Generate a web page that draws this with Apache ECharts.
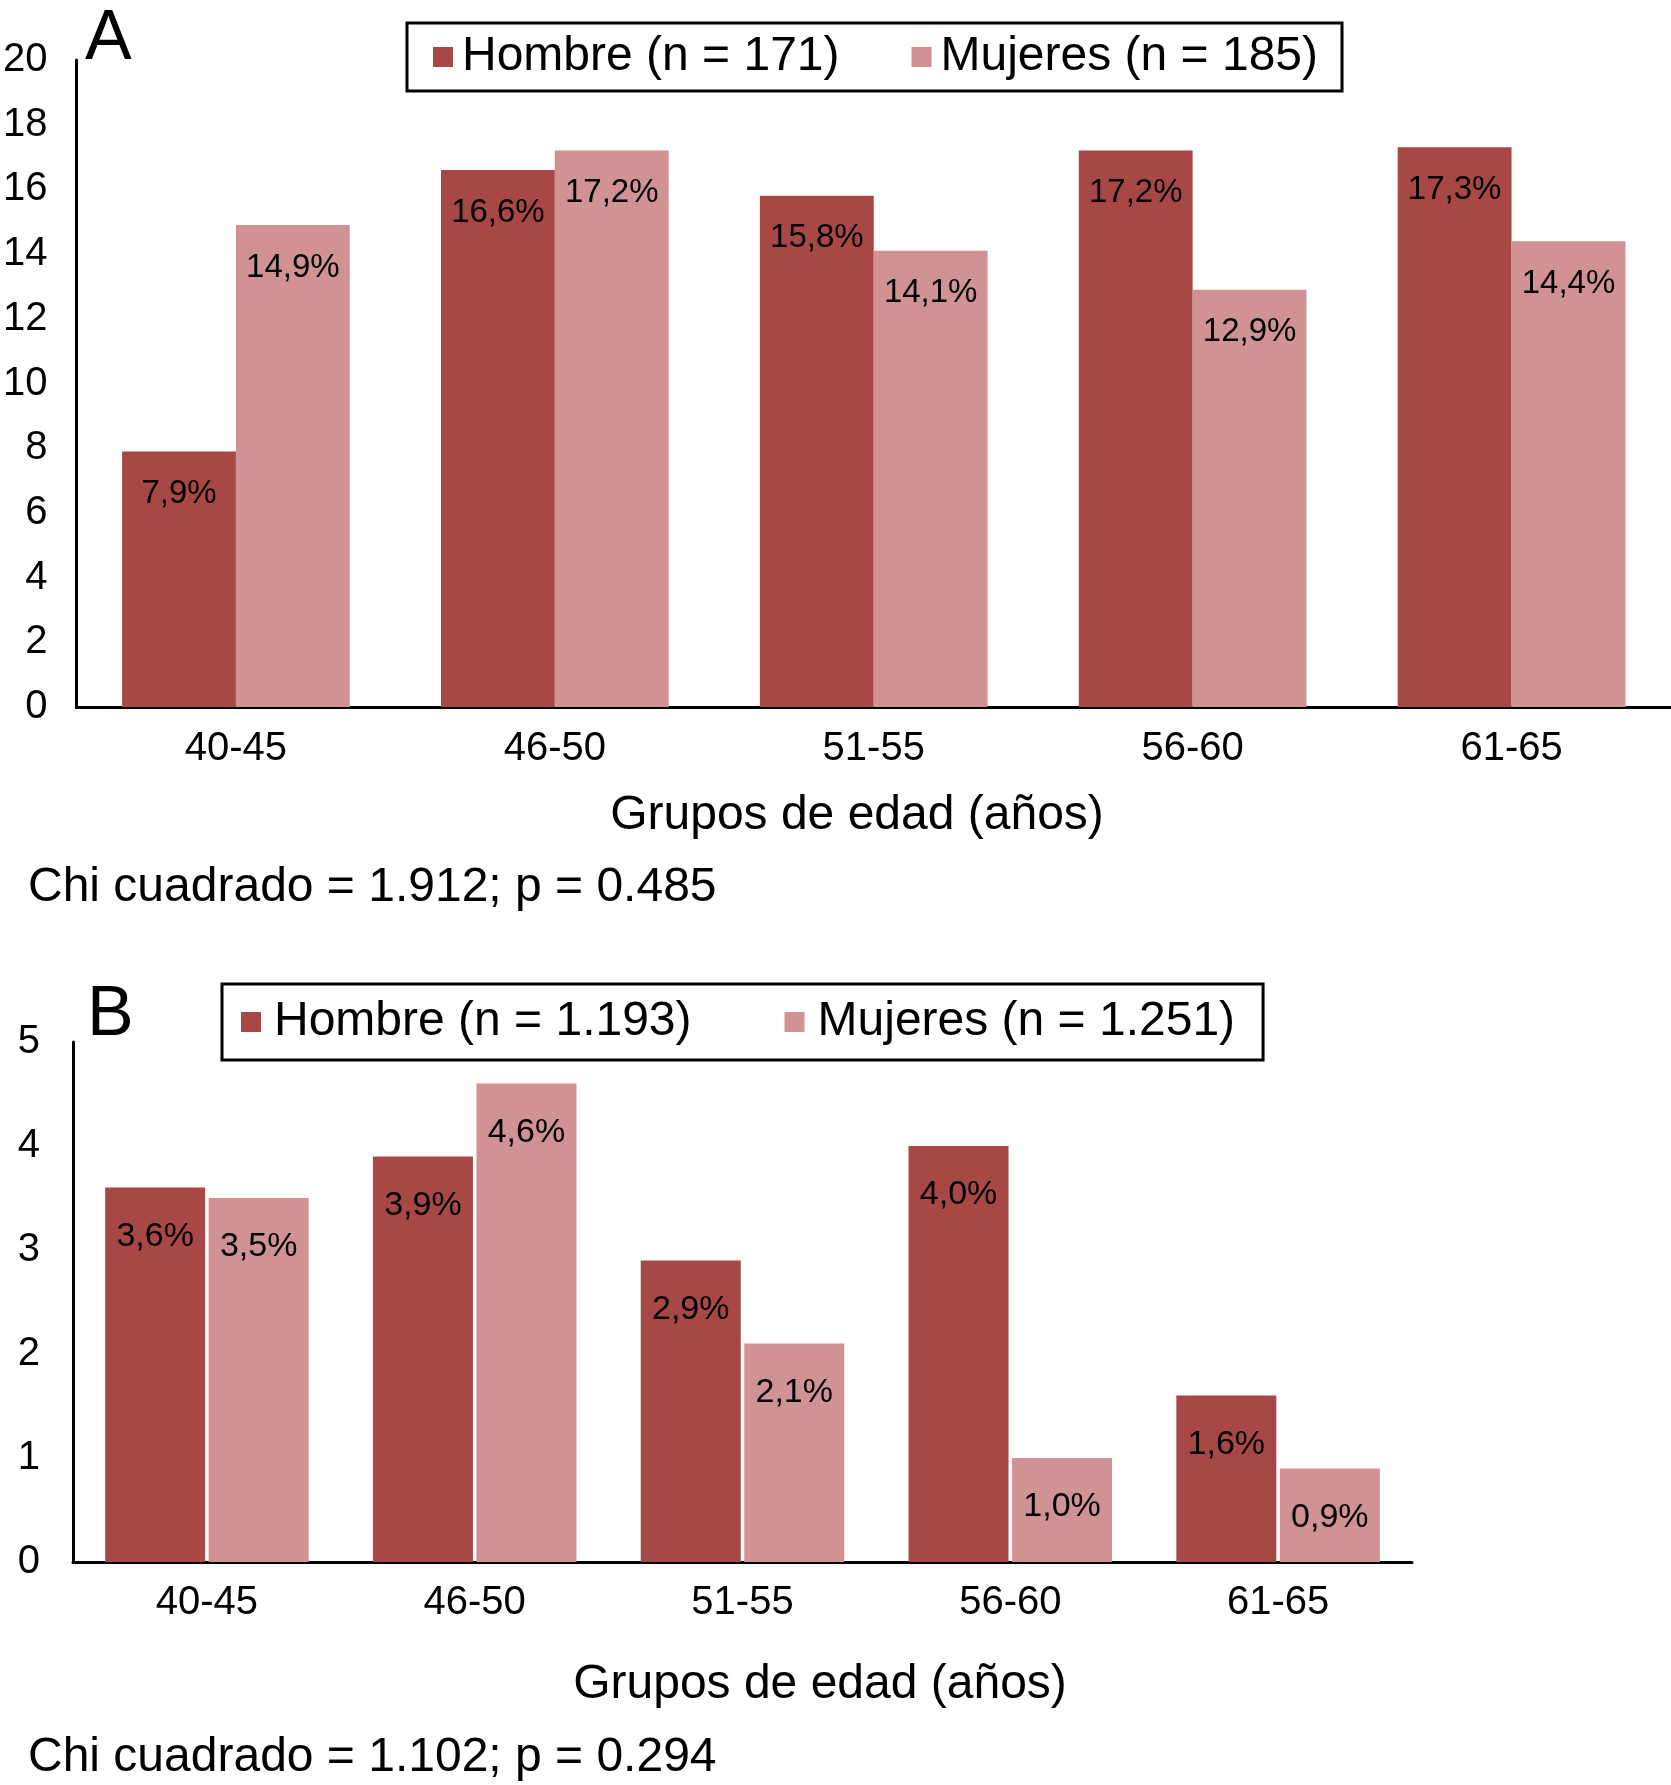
<!DOCTYPE html>
<html>
<head>
<meta charset="utf-8">
<script src="https://cdn.jsdelivr.net/npm/echarts@6/dist/echarts.min.js"></script>
<style>
html,body{margin:0;padding:0;background:#fff;}
#chart{width:1671px;height:1785px;}
</style>
</head>
<body>
<div id="chart"></div>
<script>
// ---- Data ----
var categories = ['40-45', '46-50', '51-55', '56-60', '61-65'];
var hombreA = [7.9, 16.6, 15.8, 17.2, 17.3];
var mujeresA = [14.9, 17.2, 14.1, 12.9, 14.4];
var hombreB = [3.6, 3.9, 2.9, 4.0, 1.6];
var mujeresB = [3.5, 4.6, 2.1, 1.0, 0.9];
var seriesNamesA = ['Hombre (n = 171)', 'Mujeres (n = 185)'];
var seriesNamesB = ['Hombre (n = 1.193)', 'Mujeres (n = 1.251)'];
var axisTitle = 'Grupos de edad (a\u00f1os)';
var chiA = 'Chi cuadrado = 1.912; p = 0.485';
var chiB = 'Chi cuadrado = 1.102; p = 0.294';

var FONT = '"Liberation Sans", Arial, Helvetica, sans-serif';
var C_H = '#A84846';
var C_M = '#D09292';

function fmt(p) { return p.value.toFixed(1).replace('.', ',') + '%'; }

function yAxisCfg(idx, max, interval, margin) {
  return {
    type: 'value', gridIndex: idx, min: 0, max: max, interval: interval,
    splitLine: {show: false},
    axisTick: {show: false},
    axisLine: {show: true, lineStyle: {color: '#000', width: 3}},
    axisLabel: {color: '#000', fontSize: 40, fontFamily: FONT, margin: margin}
  };
}
function xAxisCfg(idx, margin) {
  return {
    type: 'category', gridIndex: idx, data: categories,
    axisTick: {show: false},
    axisLine: {show: true, lineStyle: {color: '#000', width: 3}},
    axisLabel: {color: '#000', fontSize: 40, fontFamily: FONT, margin: margin}
  };
}
function barSeries(name, data, color, idx, catGap, gap, dist, fs) {
  return {
    type: 'bar', name: name, data: data, xAxisIndex: idx, yAxisIndex: idx,
    barCategoryGap: catGap, barGap: gap,
    itemStyle: {color: color},
    label: {show: true, position: 'insideTop', distance: dist, color: '#000',
            fontSize: fs, fontFamily: FONT, formatter: fmt},
    emphasis: {disabled: true}
  };
}
function legendCfg(names, left, top, padding, gap, textPad) {
  return {
    data: names, left: left, top: top, orient: 'horizontal',
    icon: 'rect', itemWidth: 20, itemHeight: 20, itemGap: gap,
    padding: padding, borderColor: '#000', borderWidth: 3,
    textStyle: {color: '#000', fontSize: 48, fontFamily: FONT, padding: [0, 0, 0, textPad]},
    selectedMode: false
  };
}
function txt(text, left, top, size, align) {
  return {
    text: text, left: left, top: top, padding: 0, textAlign: align || 'left',
    textStyle: {color: '#000', fontSize: size, fontWeight: 'normal', fontFamily: FONT, lineHeight: size}
  };
}

var chart = echarts.init(document.getElementById('chart'), null, {renderer: 'canvas'});
chart.setOption({
  animation: false,
  backgroundColor: '#fff',
  textStyle: {fontFamily: FONT},
  title: [
    txt('A', 85, 5, 70),
    txt('B', 87, 981, 70),
    txt(axisTitle, 857, 792, 48, 'center'),
    txt(chiA, 28, 864, 48),
    txt(axisTitle, 820, 1661, 48, 'center'),
    txt(chiB, 28, 1734, 48)
  ],
  legend: [
    legendCfg(seriesNamesA, 407, 23, [10, 24, 10, 26], 72, 4),
    legendCfg(seriesNamesB, 222, 984, [14, 28, 14, 19], 93, 8)
  ],
  grid: [
    {left: 74, right: 0, top: 60, bottom: 1078, containLabel: false},
    {left: 73, right: 259, top: 1042, bottom: 223, containLabel: false}
  ],
  xAxis: [xAxisCfg(0, 22), xAxisCfg(1, 21)],
  yAxis: [yAxisCfg(0, 20, 2, 29), yAxisCfg(1, 5, 1, 33)],
  series: [
    barSeries(seriesNamesA[0], hombreA, C_H, 0, '28.6%', '0%', 26, 33),
    barSeries(seriesNamesA[1], mujeresA, C_M, 0, '28.6%', '0%', 26, 33),
    barSeries(seriesNamesB[0], hombreB, C_H, 1, '24%', '3.5%', 32, 34),
    barSeries(seriesNamesB[1], mujeresB, C_M, 1, '24%', '3.5%', 32, 34)
  ]
});
</script>
</body>
</html>
